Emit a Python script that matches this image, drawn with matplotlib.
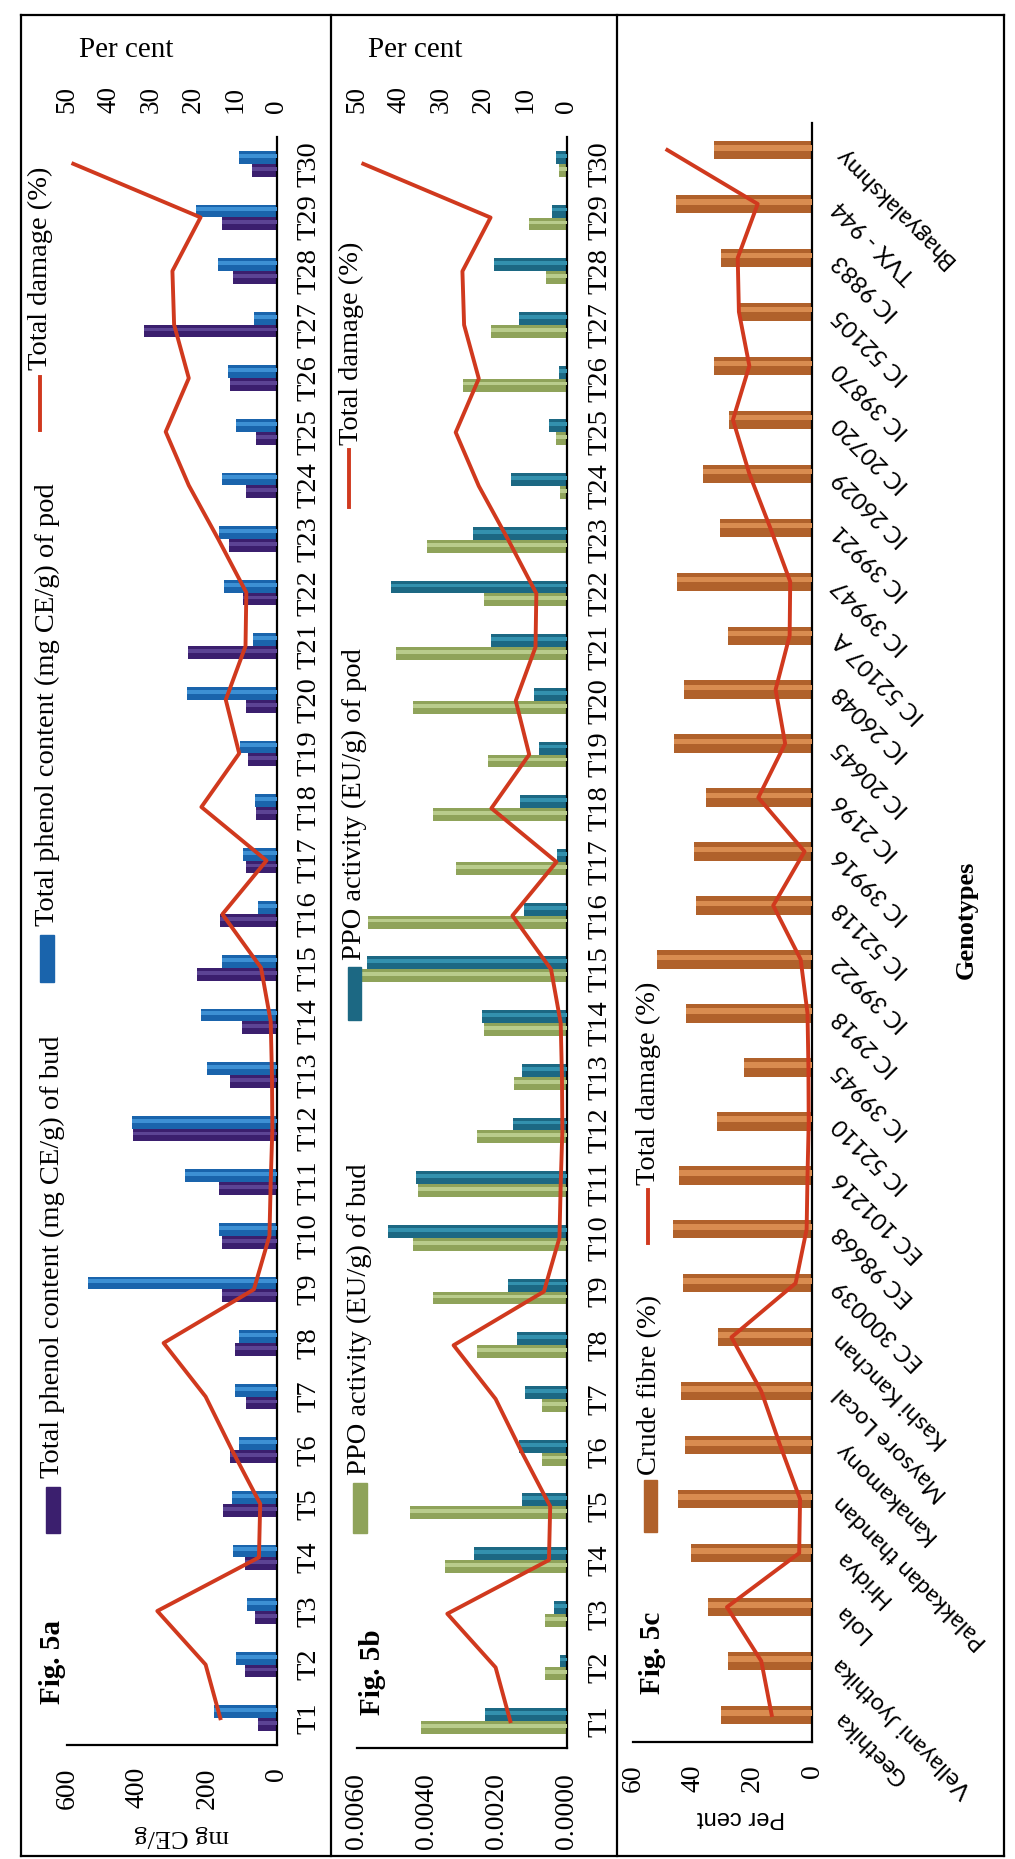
import numpy as np
import matplotlib.pyplot as plt
from matplotlib.lines import Line2D
from matplotlib.patches import Rectangle
from matplotlib.ticker import FormatStrFormatter

plt.rcParams['font.family'] = ['Liberation Serif', 'DejaVu Serif']

# ---- data ----
treatments = ['T%d' % i for i in range(1, 31)]
genotypes = ['Geethika', 'Vellayani Jyothika', 'Lola', 'Hridya', 'Palakkadan thandan',
             'Kanakamony', 'Maysore Local', 'Kashi Kanchan', 'EC 300039', 'EC 98668',
             'EC 101216', 'IC 52110', 'IC 39945', 'IC 2918', 'IC 39922', 'IC 52118',
             'IC 39916', 'IC 2196', 'IC 20645', 'IC 26048', 'IC 52107 A', 'IC 39947',
             'IC 39921', 'IC 26029', 'IC 20720', 'IC 39870', 'IC 52105', 'IC 9883',
             'TVX - 944', 'Bhagyalakshmy']

phenol_bud = [55, 92, 64, 92, 153, 135, 88, 120, 157, 157,
              166, 412, 133, 101, 230, 162, 88, 59, 83, 88,
              254, 96, 138, 89, 60, 133, 380, 126, 158, 71]
phenol_pod = [180, 116, 87, 125, 129, 110, 120, 110, 540, 166,
              264, 415, 199, 216, 157, 55, 96, 64, 107, 258,
              70, 151, 166, 158, 116, 139, 65, 170, 232, 110]

ppo_bud = [0.00417, 0.00063, 0.00063, 0.0035, 0.0045, 0.00072, 0.00072, 0.00256, 0.00383, 0.0044,
           0.00426, 0.00256, 0.00152, 0.00237, 0.00597, 0.00568, 0.00318, 0.00383, 0.00227, 0.0044,
           0.00489, 0.00237, 0.0040, 0.00019, 0.00032, 0.00297, 0.00216, 0.0006, 0.00108, 0.00023]
ppo_pod = [0.00233, 0.00019, 0.00038, 0.00265, 0.00129, 0.00138, 0.0012, 0.00142, 0.0017, 0.00511,
           0.00432, 0.00155, 0.00129, 0.00242, 0.00572, 0.00123, 0.00028, 0.00133, 0.0008, 0.00095,
           0.00218, 0.00502, 0.00269, 0.00159, 0.00051, 0.00023, 0.00136, 0.00208, 0.00042, 0.00032]

crude_fibre = [30.4, 28.2, 34.7, 40.6, 44.9, 42.7, 44.0, 31.5, 43.4, 46.6,
               44.5, 31.9, 22.8, 42.3, 52.1, 39.0, 39.7, 35.4, 46.2, 43.0,
               28.2, 45.1, 31.0, 36.4, 27.8, 33.0, 24.3, 30.4, 45.5, 33.0]

total_damage = [13.5, 17.0, 28.5, 4.3, 4.0, 10.7, 17.0, 27.0, 5.5, 1.8,
                1.5, 1.1, 1.2, 1.5, 3.8, 13.0, 2.5, 18.0, 9.0, 12.2,
                7.5, 7.3, 14.0, 21.0, 26.5, 21.0, 24.5, 24.9, 18.2, 48.5]

RED = '#D0391E'

W, H = 1015, 1859
fig = plt.figure(figsize=(W / 100, H / 100), dpi=100)


def box(x0, x1, y0, y1):
    return [x0 / W, 1 - y1 / H, (x1 - x0) / W, (y1 - y0) / H]


def fx(x):
    return x / W


def fy(y):
    return 1 - y / H


def cyl(ax, y, vals, h, base, light):
    ax.barh(y, vals, height=h, color=base, zorder=2)
    ax.barh(y + h * 0.12, vals, height=h * 0.3, color=light, zorder=3)


def frame(ax):
    for s in ['top', 'left']:
        ax.spines[s].set_visible(False)
    for s in ['bottom', 'right']:
        ax.spines[s].set_linewidth(1.6)
    ax.yaxis.tick_right()
    ax.set_ylim(0.5, 30.5)
    ax.set_yticks(pos)
    ax.tick_params(length=0)


pos = np.arange(1, 31)

# ---------- Fig 5a ----------
axa = fig.add_axes(box(67, 277, 137, 1745))
cyl(axa, pos - 0.12, phenol_bud, 0.24, '#3B1F6E', '#5C4494')
cyl(axa, pos + 0.12, phenol_pod, 0.24, '#1A64AC', '#3D90D4')
axa.set_xlim(600, 0)
frame(axa)
axa.set_xticks([0, 200, 400, 600])
axa.set_xticklabels(['0', '200', '400', '600'], rotation=90, fontsize=20)
axa.set_yticklabels(treatments, rotation=90, va='center', fontsize=20.5)
axa.tick_params(axis='x', pad=16)
axa.tick_params(axis='y', pad=14)

ta = axa.twiny()
ta.set_xlim(50, 0)
ta.plot(total_damage, pos, color=RED, lw=2.8, zorder=5)
ta.set_xticks(range(0, 51, 10))
ta.set_xticklabels([str(v) for v in range(0, 51, 10)], rotation=90, fontsize=19.5)
ta.tick_params(length=0, pad=17)
for s in ta.spines.values():
    s.set_visible(False)

# ---------- Fig 5b ----------
axb = fig.add_axes(box(357, 567, 137, 1748))
cyl(axb, pos - 0.12, ppo_bud, 0.24, '#8FA35A', '#B9CC8C')
cyl(axb, pos + 0.12, ppo_pod, 0.24, '#1C6883', '#3391AE')
axb.set_xlim(0.006, 0)
frame(axb)
axb.set_xticks([0, 0.002, 0.004, 0.006])
axb.xaxis.set_major_formatter(FormatStrFormatter('%.4f'))
axb.tick_params(axis='x', labelrotation=90, labelsize=20, pad=18)
axb.set_yticklabels(treatments, rotation=90, va='center', fontsize=20.5)
axb.tick_params(axis='y', pad=15)

tb = axb.twiny()
tb.set_xlim(50, 0)
tb.plot(total_damage, pos, color=RED, lw=2.8, zorder=5)
tb.set_xticks(range(0, 51, 10))
tb.set_xticklabels([str(v) for v in range(0, 51, 10)], rotation=90, fontsize=19.5)
tb.tick_params(length=0, pad=17)
for s in tb.spines.values():
    s.set_visible(False)

# ---------- Fig 5c ----------
axc = fig.add_axes(box(633, 812, 123, 1742))
cyl(axc, pos, crude_fibre, 0.34, '#B0612B', '#D98C50')
axc.plot(total_damage, pos, color=RED, lw=2.8, zorder=5)
axc.set_xlim(60, 0)
frame(axc)
axc.set_xticks([0, 20, 40, 60])
axc.set_xticklabels(['0', '20', '40', '60'], rotation=90, fontsize=20)
axc.tick_params(axis='x', pad=16)
axc.set_yticklabels(genotypes, rotation=135, rotation_mode='anchor', ha='right',
                    va='center', fontsize=17, family=['Lato', 'DejaVu Sans'])
axc.tick_params(axis='y', pad=18)

# ---------- texts ----------
fig.text(fx(126), fy(50), 'Per cent', ha='center', va='center', fontsize=21)
fig.text(fx(415), fy(50), 'Per cent', ha='center', va='center', fontsize=21)
fig.text(fx(182), fy(1836), 'mg CE/g', ha='center', va='center', rotation=180, fontsize=19)
fig.text(fx(741), fy(1817), 'Per cent', ha='center', va='center', rotation=180, fontsize=17,
         family=['Liberation Sans', 'DejaVu Sans'])
fig.text(fx(966), fy(920), 'Genotypes', ha='center', va='center', rotation=90, fontsize=19,
         fontweight='bold')

fig.text(fx(53), fy(1662), 'Fig. 5a', ha='center', va='center', rotation=90, fontsize=21, fontweight='bold')
fig.text(fx(372), fy(1672), 'Fig. 5b', ha='center', va='center', rotation=90, fontsize=21, fontweight='bold')
fig.text(fx(653), fy(1653), 'Fig. 5c', ha='center', va='center', rotation=90, fontsize=21, fontweight='bold')


# ---------- legends ----------
def swatch(x0, x1, y0, y1, color):
    fig.add_artist(Rectangle((fx(x0), fy(y1)), (x1 - x0) / W, (y1 - y0) / H,
                             transform=fig.transFigure, color=color))


def redline(x, y0, y1):
    fig.add_artist(Line2D([fx(x), fx(x)], [fy(y0), fy(y1)], transform=fig.transFigure,
                          color=RED, lw=2.8))


def ltext(x, y, s):
    fig.text(fx(x), fy(y), s, rotation=90, ha='center', va='bottom', fontsize=20.5)


swatch(46, 60, 1487, 1533, '#3B1F6E')
ltext(52, 1478, 'Total phenol content (mg CE/g) of bud')
swatch(40, 54, 935, 982, '#1A64AC')
ltext(47, 926, 'Total phenol content (mg CE/g) of pod')
redline(40, 377, 430)
ltext(40, 370, 'Total damage (%)')

swatch(353, 367, 1483, 1533, '#8FA35A')
ltext(359, 1475, 'PPO activity (EU/g) of bud')
swatch(348, 361, 967, 1020, '#1C6883')
ltext(354, 960, 'PPO activity (EU/g) of pod')
redline(349, 450, 507)
ltext(351, 445, 'Total damage (%)')

swatch(644, 657, 1480, 1532, '#B0612B')
ltext(650, 1475, 'Crude fibre (%)')
redline(648, 1190, 1243)
ltext(648, 1185, 'Total damage (%)')

# ---------- borders ----------
for xs, ys in [([21, 1004], [15, 15]), ([21, 1004], [1856, 1856]),
               ([21, 21], [15, 1856]), ([1004, 1004], [15, 1856]),
               ([331, 331], [15, 1856]), ([617, 617], [15, 1856])]:
    fig.add_artist(Line2D([fx(v) for v in xs], [fy(v) for v in ys],
                          transform=fig.transFigure, color='black', lw=1.6))

fig.savefig('out.png', dpi=100)
